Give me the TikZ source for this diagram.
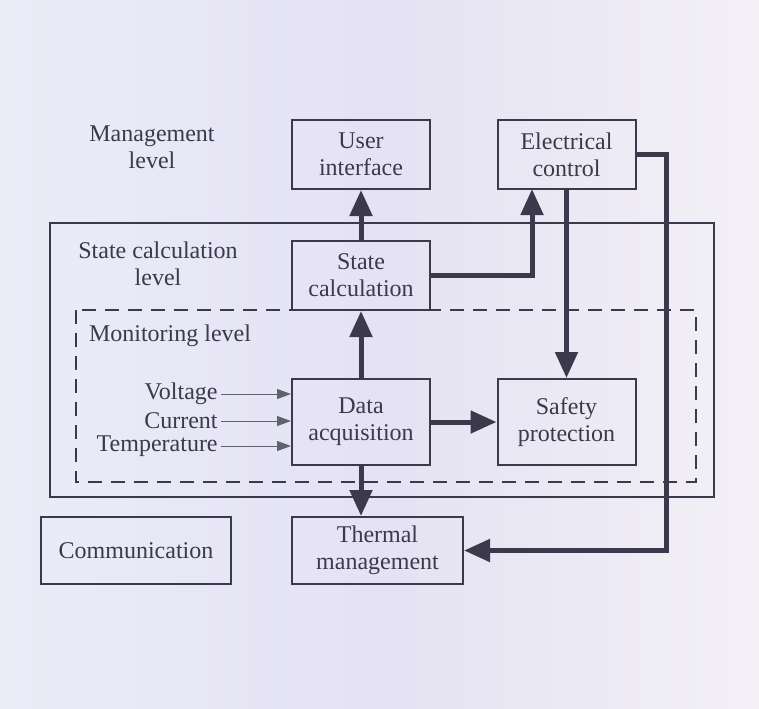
\documentclass[tikz,border=0pt]{standalone}
\usepackage{fontspec}
\setmainfont{Liberation Serif}
\usetikzlibrary{positioning,arrows.meta}
\definecolor{ink}{HTML}{3A3A4C}
\definecolor{bgleft}{HTML}{ECECF9}
\definecolor{bgmid}{HTML}{E4E2F3}
\definecolor{bgright}{HTML}{F3F0F6}
\tikzset{
  block/.style={draw=ink, line width=1pt, text=ink, align=center, inner sep=0pt,
    minimum width=69pt, minimum height=34.5pt, font=\fontsize{12}{13.5}\selectfont},
  lvl/.style={text=ink, align=center, inner sep=0pt, font=\fontsize{12}{13.5}\selectfont},
  flow/.style={draw=ink, line width=2.5pt, -{Triangle[length=13pt,width=11pt]}},
  feed/.style={draw=ink!80, line width=0.5pt, -{Triangle[length=7pt,width=5pt]}}
}
\begin{document}
\begin{tikzpicture}[x=0.5pt, y=-0.5pt]
\shade[left color=bgleft, right color=bgright, middle color=bgmid] (0,0) rectangle (759,708);
\useasboundingbox (0,0) rectangle (759,708);

% level frames
\draw[ink, line width=1pt] (50,223) rectangle (714,497);
\draw[ink, line width=1.2pt, dash pattern=on 7pt off 4.5pt] (76,310) rectangle (696,482);

\node[lvl] (mgmt) at (152,147) {Management\\level};
\node[lvl] (statelvl) at (158,264) {State calculation\\level};
\node[lvl] (monlvl) at (170,336) {Monitoring level};

% blocks
\node[block] (ui) at (361,154.5) {User\\interface};
\node[block] (ec) at (566.5,154.5) {Electrical\\control};
\node[block] (sc) at (361,275.5) {State\\calculation};
\node[block, minimum height=43pt] (da) at (361,422) {Data\\acquisition};
\node[block, minimum height=43pt] (sp) at (566.5,422) {Safety\\protection};
\node[block, minimum width=95pt, minimum height=33.5pt] (comm) at (136,550.5) {Communication};
\node[block, minimum width=85.5pt, minimum height=33.5pt] (tm) at (377.5,550.5) {Thermal\\management};

% inputs
\node[lvl, anchor=east] (volt) at (218,394) {Voltage};
\node[lvl, anchor=east] (curr) at (218,421) {Current};
\node[lvl, anchor=east] (temp) at (218,446) {Temperature};
\foreach \src in {volt,curr,temp}
  \draw[feed] (\src.east) ++(3,0) -- (da.west |- \src.east);

% connectors
\coordinate (ecin) at (532,189);
\draw[flow] (da.north) -- (sc.south);
\draw[flow] (sc.north) -- (ui.south);
\draw[flow] (sc.east) -| (ecin);
\draw[flow] (ec.south) -- (sp.north);
\draw[flow] (da.east) -- (sp.west);
\draw[flow] (da.south) -- (da.south |- tm.north);
\draw[flow] (ec.east) -- ++(30,0) |- (tm.east);
\end{tikzpicture}
\end{document}
